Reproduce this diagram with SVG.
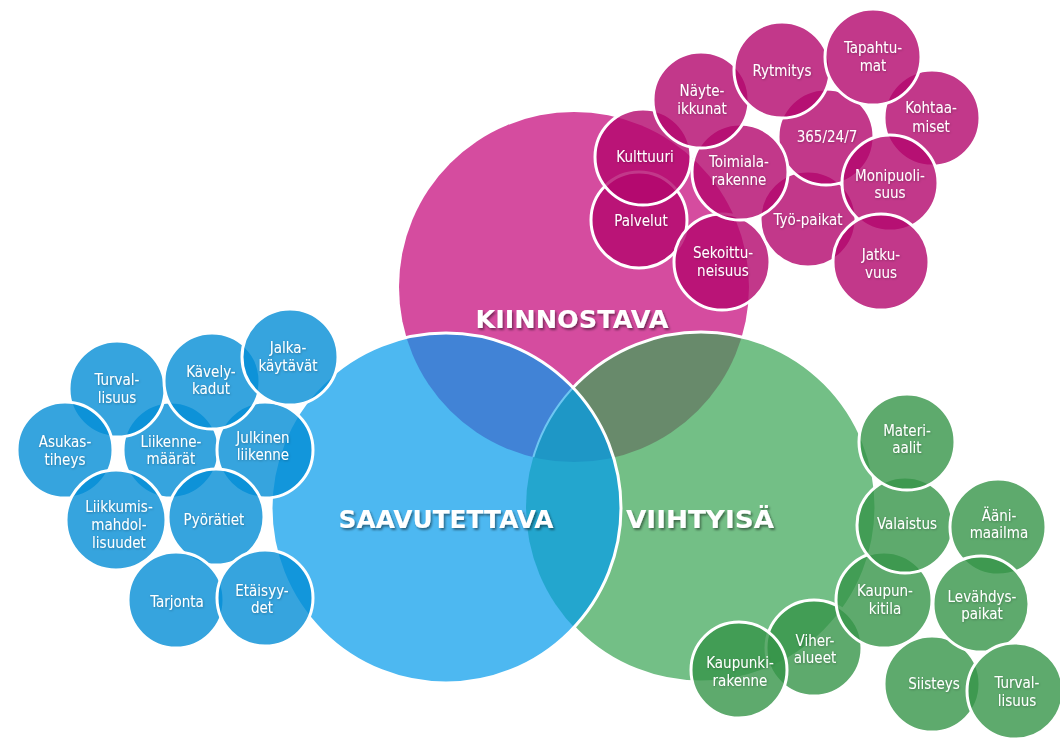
<svg xmlns="http://www.w3.org/2000/svg" width="1060" height="741" viewBox="0 0 1060 741">
<defs>
<style>
.sm{stroke:#fff;stroke-width:3;fill-opacity:0.8}
.mg{fill:#B3066D}
.bl{fill:#048DD6}
.gr{fill:#369549}
.lbl{font-family:"DejaVu Sans Condensed","DejaVu Sans",sans-serif;font-stretch:condensed;font-size:15px;fill:#fff;text-anchor:middle;filter:url(#ts)}
.big{font-family:"DejaVu Sans",Verdana,sans-serif;font-weight:bold;font-size:25px;fill:#fff;text-anchor:middle;filter:url(#bs)}
</style>
<filter id="ts" x="-20%" y="-40%" width="140%" height="180%">
<feDropShadow dx="0.6" dy="0.8" stdDeviation="0.8" flood-color="#000" flood-opacity="0.3"/>
</filter>
<filter id="bs" x="-10%" y="-30%" width="120%" height="160%">
<feDropShadow dx="1.5" dy="2" stdDeviation="1.3" flood-color="#000" flood-opacity="0.45"/>
</filter>
<clipPath id="cM"><circle cx="574" cy="287" r="175"/></clipPath>
<clipPath id="cB"><circle cx="446" cy="508" r="175"/></clipPath>
<clipPath id="cG"><circle cx="701" cy="507" r="175"/></clipPath>
</defs>
<rect width="1060" height="741" fill="#fff"/>
<g id="big-circles">
<g id="kiinnostava-circle">
<circle cx="574" cy="287" r="175" fill="#D54C9F"/>
</g>
<g id="viihtyisa-circle">
<circle cx="701" cy="507" r="175" fill="#73BF86"/>
<circle cx="701" cy="507" r="175" fill="#688A6B" clip-path="url(#cM)"/>
<circle cx="701" cy="507" r="175" fill="none" stroke="#fff" stroke-width="3"/>
</g>
<g id="saavutettava-circle">
<circle cx="446" cy="508" r="175" fill="#4DB8F1"/>
<circle cx="446" cy="508" r="175" fill="#4183D6" clip-path="url(#cM)"/>
<circle cx="446" cy="508" r="175" fill="#23A6CE" clip-path="url(#cG)"/>
<g clip-path="url(#cM)"><circle cx="446" cy="508" r="175" fill="#1E97C6" clip-path="url(#cG)"/></g>
<g clip-path="url(#cM)"><circle cx="701" cy="507" r="175" fill="none" stroke="#6EC6F2" stroke-width="2" clip-path="url(#cB)"/></g>
<circle cx="446" cy="508" r="175" fill="none" stroke="#fff" stroke-width="3"/>
</g>
<text class="big" x="572" y="328" textLength="193" lengthAdjust="spacingAndGlyphs">KIINNOSTAVA</text>
<text class="big" x="446" y="528" textLength="215" lengthAdjust="spacingAndGlyphs">SAAVUTETTAVA</text>
<text class="big" x="700" y="528" textLength="148" lengthAdjust="spacingAndGlyphs">VIIHTYISÄ</text>
</g>
<g id="connectors"/>
<g id="kiinnostava-nodes">
<g id="palvelut"><circle class="sm mg" cx="639" cy="220" r="48"/><text class="lbl" x="641" y="226">Palvelut</text></g>
<g id="kulttuuri"><circle class="sm mg" cx="643" cy="157" r="48"/><text class="lbl" x="645" y="162">Kulttuuri</text></g>
<g id="sekoittuneisuus"><circle class="sm mg" cx="722" cy="262" r="48"/><text class="lbl" x="723" y="258">Sekoittu-</text><text class="lbl" x="723" y="276">neisuus</text></g>
<g id="tyopaikat"><circle class="sm mg" cx="808" cy="219" r="48"/><text class="lbl" x="808" y="225">Työ-paikat</text></g>
<g id="n365"><circle class="sm mg" cx="826" cy="137" r="48"/><text class="lbl" x="827" y="142">365/24/7</text></g>
<g id="toimialarakenne"><circle class="sm mg" cx="740" cy="172" r="48"/><text class="lbl" x="739" y="167">Toimiala-</text><text class="lbl" x="739" y="185">rakenne</text></g>
<g id="nayteikkunat"><circle class="sm mg" cx="701" cy="100" r="48"/><text class="lbl" x="702" y="96">Näyte-</text><text class="lbl" x="702" y="114">ikkunat</text></g>
<g id="kohtaamiset"><circle class="sm mg" cx="932" cy="118" r="48"/><text class="lbl" x="931" y="113">Kohtaa-</text><text class="lbl" x="931" y="132">miset</text></g>
<g id="rytmitys"><circle class="sm mg" cx="782" cy="70" r="48"/><text class="lbl" x="782" y="76">Rytmitys</text></g>
<g id="tapahtumat"><circle class="sm mg" cx="873" cy="57" r="48"/><text class="lbl" x="873" y="53">Tapahtu-</text><text class="lbl" x="873" y="71">mat</text></g>
<g id="monipuolisuus"><circle class="sm mg" cx="890" cy="183" r="48"/><text class="lbl" x="890" y="181">Monipuoli-</text><text class="lbl" x="890" y="198">suus</text></g>
<g id="jatkuvuus"><circle class="sm mg" cx="881" cy="262" r="48"/><text class="lbl" x="881" y="260">Jatku-</text><text class="lbl" x="881" y="278">vuus</text></g>
</g>
<g id="saavutettava-nodes">
<g id="liikennemaarat"><circle class="sm bl" cx="171" cy="450" r="48"/><text class="lbl" x="171" y="447">Liikenne-</text><text class="lbl" x="171" y="464">määrät</text></g>
<g id="julkinenliikenne"><circle class="sm bl" cx="265" cy="450" r="48"/><text class="lbl" x="263" y="443">Julkinen</text><text class="lbl" x="263" y="460">liikenne</text></g>
<g id="turvallisuus-b"><circle class="sm bl" cx="117" cy="389" r="48"/><text class="lbl" x="117" y="385">Turval-</text><text class="lbl" x="117" y="403">lisuus</text></g>
<g id="kavelykadut"><circle class="sm bl" cx="212" cy="381" r="48"/><text class="lbl" x="211" y="377">Kävely-</text><text class="lbl" x="211" y="394">kadut</text></g>
<g id="jalkakaytavat"><circle class="sm bl" cx="290" cy="357" r="48"/><text class="lbl" x="288" y="353">Jalka-</text><text class="lbl" x="288" y="371">käytävät</text></g>
<g id="asukastiheys"><circle class="sm bl" cx="65" cy="450" r="48"/><text class="lbl" x="65" y="447">Asukas-</text><text class="lbl" x="65" y="465">tiheys</text></g>
<g id="liikkumismahdollisuudet"><circle class="sm bl" cx="116" cy="520" r="50"/><text class="lbl" x="119" y="512">Liikkumis-</text><text class="lbl" x="119" y="530">mahdol-</text><text class="lbl" x="119" y="548">lisuudet</text></g>
<g id="pyoratiet"><circle class="sm bl" cx="216" cy="517" r="48"/><text class="lbl" x="214" y="525">Pyörätiet</text></g>
<g id="tarjonta"><circle class="sm bl" cx="176" cy="600" r="48"/><text class="lbl" x="177" y="607">Tarjonta</text></g>
<g id="etaisyydet"><circle class="sm bl" cx="265" cy="598" r="48"/><text class="lbl" x="262" y="596">Etäisyy-</text><text class="lbl" x="262" y="613">det</text></g>
</g>
<g id="viihtyisa-nodes">
<g id="viheralueet"><circle class="sm gr" cx="814" cy="648" r="48"/><text class="lbl" x="815" y="646">Viher-</text><text class="lbl" x="815" y="663">alueet</text></g>
<g id="kaupunkirakenne"><circle class="sm gr" cx="739" cy="670" r="48"/><text class="lbl" x="740" y="668">Kaupunki-</text><text class="lbl" x="740" y="686">rakenne</text></g>
<g id="kaupunkitila"><circle class="sm gr" cx="884" cy="600" r="48"/><text class="lbl" x="885" y="596">Kaupun-</text><text class="lbl" x="885" y="614">kitila</text></g>
<g id="valaistus"><circle class="sm gr" cx="905" cy="525" r="48"/><text class="lbl" x="907" y="529">Valaistus</text></g>
<g id="materiaalit"><circle class="sm gr" cx="907" cy="442" r="48"/><text class="lbl" x="907" y="436">Materi-</text><text class="lbl" x="907" y="453">aalit</text></g>
<g id="aanimaailma"><circle class="sm gr" cx="998" cy="527" r="48"/><text class="lbl" x="999" y="521">Ääni-</text><text class="lbl" x="999" y="538">maailma</text></g>
<g id="siisteys"><circle class="sm gr" cx="932" cy="684" r="48"/><text class="lbl" x="934" y="689">Siisteys</text></g>
<g id="levahdyspaikat"><circle class="sm gr" cx="981" cy="604" r="48"/><text class="lbl" x="982" y="602">Levähdys-</text><text class="lbl" x="982" y="619">paikat</text></g>
<g id="turvallisuus-g"><circle class="sm gr" cx="1015" cy="691" r="48"/><text class="lbl" x="1017" y="688">Turval-</text><text class="lbl" x="1017" y="706">lisuus</text></g>
</g>
</svg>
